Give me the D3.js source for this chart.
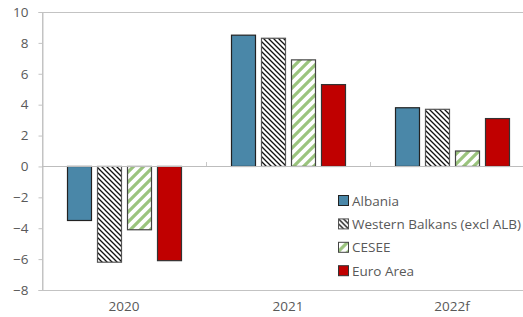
<!DOCTYPE html>
<html lang="en">
<head>
<meta charset="utf-8"/>
<script src="https://d3js.org/d3.v7.min.js"></script>
<style>
    body { margin: 0; background: #fff; }
    text { font-family: "Open Sans", sans-serif; fill: #595959; }
</style>
</head>
<body>
<script>
    // chart data
    var years = ["2020", "2021", "2022f"];
    var seriesNames = ["Albania", "Western Balkans (excl ALB)", "CESEE", "Euro Area"];
    var albania = [-3.5, 8.5, 3.8];
    var westernBalkans = [-6.2, 8.3, 3.7];
    var cesee = [-4.1, 6.9, 1.0];
    var euroArea = [-6.1, 5.3, 3.1];
    var yTicks = [-8, -6, -4, -2, 0, 2, 4, 6, 8, 10];

    var allSeries = [albania, westernBalkans, cesee, euroArea];

    var width = 523, height = 317;
    var margin = {top: 12, left: 42, bottom: 27};
    var plotRight = 534; // plot runs a bit past the window edge

    var svg = d3.select("body").append("svg")
        .attr("width", width)
        .attr("height", height);

    var defs = svg.append("defs");

    // black diagonal hatch (down to the right)
    var hatch = defs.append("pattern")
        .attr("id", "hatchWB")
        .attr("patternUnits", "userSpaceOnUse")
        .attr("width", 5).attr("height", 5);
    hatch.append("rect").attr("width", 5).attr("height", 5).attr("fill", "#fff");
    hatch.append("path")
        .attr("d", "M-1,-1 L6,6 M-1,4 L1,6 M4,-1 L6,1")
        .attr("stroke", "#111").attr("stroke-width", 1.3);

    // green wide stripes (up to the right)
    var stripes = defs.append("pattern")
        .attr("id", "stripeCESEE")
        .attr("patternUnits", "userSpaceOnUse")
        .attr("width", 10).attr("height", 10);
    stripes.append("rect").attr("width", 10).attr("height", 10).attr("fill", "#fff");
    stripes.append("path")
        .attr("d", "M-2,2 L2,-2 M0,10 L10,0 M8,12 L12,8")
        .attr("stroke", "#9bc47e").attr("stroke-width", 3.2);

    var fills = ["#4a87a8", "url(#hatchWB)", "url(#stripeCESEE)", "#c00000"];
    var strokes = ["#222", "#555", "#444", "#333"];

    var y = d3.scaleLinear()
        .domain([-8, 10])
        .range([height - margin.bottom, margin.top]);

    var x = d3.scaleBand()
        .domain(years)
        .range([margin.left, plotRight]);

    var inner = d3.scaleBand()
        .domain(d3.range(seriesNames.length))
        .range([0, x.bandwidth()])
        .paddingInner(0.2)
        .paddingOuter(0.84);

    // plot frame
    svg.append("rect")
        .attr("x", margin.left + 0.5)
        .attr("y", y(10) + 0.5)
        .attr("width", plotRight - margin.left)
        .attr("height", y(-8) - y(10))
        .attr("fill", "none")
        .attr("stroke", "#c3c3c3")
        .attr("stroke-width", 1);

    // y axis
    var yAxis = svg.append("g")
        .attr("transform", "translate(" + (margin.left + 0.5) + ",0)")
        .call(d3.axisLeft(y).tickValues(yTicks).tickSize(4).tickPadding(10));
    yAxis.select(".domain").attr("stroke", "#c3c3c3");
    yAxis.selectAll(".tick line").attr("stroke", "#c3c3c3");
    yAxis.selectAll(".tick text")
        .style("font-family", "Open Sans, sans-serif")
        .style("font-size", "13.5px")
        .attr("fill", "#595959");

    // bars
    years.forEach(function(yr, i) {
        allSeries.forEach(function(vals, s) {
            var v = vals[i];
            svg.append("rect")
                .attr("x", Math.round(x(yr) + inner(s)) + 0.5)
                .attr("y", y(Math.max(0, v)))
                .attr("width", Math.round(inner.bandwidth()))
                .attr("height", Math.abs(y(v) - y(0)))
                .attr("fill", fills[s])
                .attr("stroke", strokes[s])
                .attr("stroke-width", 1.2);
        });
    });

    // zero line with category ticks
    svg.append("line")
        .attr("x1", margin.left).attr("x2", plotRight)
        .attr("y1", Math.round(y(0)) + 0.5).attr("y2", Math.round(y(0)) + 0.5)
        .attr("stroke", "#bdbdbd");
    svg.selectAll("cattick")
        .data(years.slice(1))
        .enter()
        .append("line")
        .attr("x1", function(d) { return Math.round(x(d)) + 0.5; })
        .attr("x2", function(d) { return Math.round(x(d)) + 0.5; })
        .attr("y1", Math.round(y(0)) - 4)
        .attr("y2", Math.round(y(0)))
        .attr("stroke", "#c8c8c8");

    // category labels at the bottom
    svg.selectAll("catlabel")
        .data(years)
        .enter()
        .append("text")
        .attr("x", function(d) { return x(d) + x.bandwidth() / 2; })
        .attr("y", y(-8) + 21)
        .attr("text-anchor", "middle")
        .style("font-size", "13.5px")
        .text(function(d) { return d; });

    // legend
    var legend = svg.append("g").attr("transform", "translate(338,195)");
    seriesNames.forEach(function(name, s) {
        var g = legend.append("g").attr("transform", "translate(0," + (s * 23.4) + ")");
        g.append("rect")
            .attr("x", 0.5).attr("y", 0.5)
            .attr("width", 10).attr("height", 10)
            .attr("fill", fills[s])
            .attr("stroke", strokes[s]);
        g.append("text")
            .attr("x", 14)
            .attr("y", 10.5)
            .style("font-size", "13.5px")
            .text(name);
    });
</script>
</body>
</html>
